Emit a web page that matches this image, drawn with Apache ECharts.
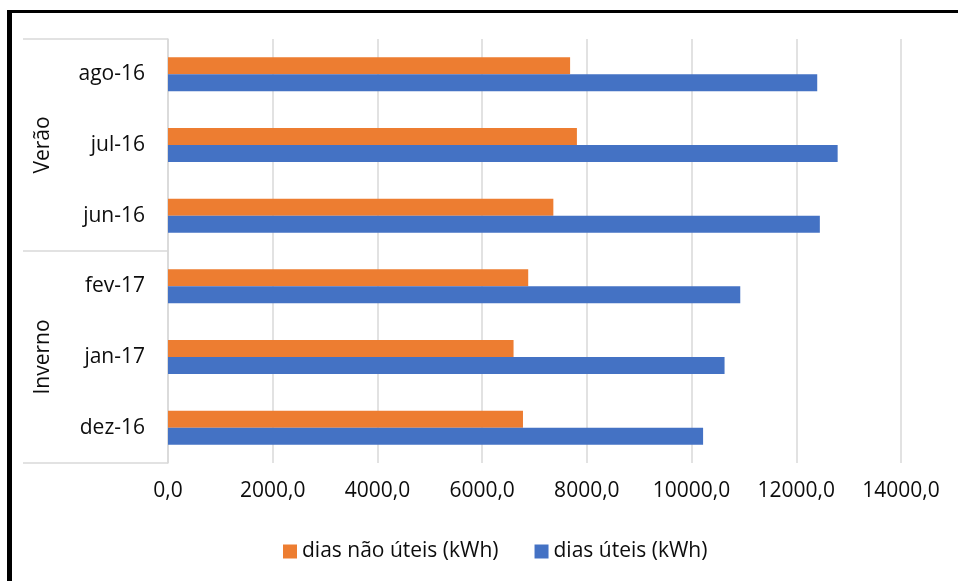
<!DOCTYPE html>
<html>
<head>
<meta charset="utf-8">
<script src="https://cdn.jsdelivr.net/npm/echarts@6/dist/echarts.min.js"></script>
<style>
  html, body { margin: 0; padding: 0; background: #fff; }
  #frame { position: absolute; left: 7px; top: 10px; right: -10px; bottom: -10px;
           border-left: 5px solid #000; border-top: 3px solid #000; }
  #chart { position: absolute; left: 0; top: 0; width: 958px; height: 581px; }
</style>
</head>
<body>
<div id="frame"></div>
<div id="chart"></div>
<script>
// Monthly consumption, listed bottom-to-top along the category axis
const months = ['dez-16', 'jan-17', 'fev-17', 'jun-16', 'jul-16', 'ago-16'];
const seasons = ['Inverno', 'Verão'];
const naoUteis = [6780, 6600, 6880, 7360, 7810, 7680];
const uteis = [10220, 10630, 10930, 12450, 12790, 12400];
const xTicks = { min: 0, max: 14000, interval: 2000 };

const FONT = '"Open Sans", sans-serif';
const TEXT = '#0d0d0d';
const GRID = '#d9d9d9';

const chart = echarts.init(document.getElementById('chart'), null, { renderer: 'canvas' });
chart.setOption({
  backgroundColor: 'transparent',
  animation: false,
  textStyle: { fontFamily: FONT },
  grid: { left: 168, right: 57, top: 39, bottom: 118, containLabel: false },
  legend: {
    data: ['dias não úteis (kWh)', 'dias úteis (kWh)'],
    left: 278, top: 536,
    itemWidth: 14, itemHeight: 14, itemGap: 36,
    icon: 'rect',
    textStyle: { fontFamily: FONT, fontSize: 21, color: TEXT }
  },
  xAxis: {
    type: 'value',
    min: xTicks.min, max: xTicks.max, interval: xTicks.interval,
    axisLine: { show: false },
    axisTick: { show: false },
    splitLine: { lineStyle: { color: GRID, width: 1.5 } },
    axisLabel: {
      margin: 18, fontFamily: FONT, fontSize: 21, color: TEXT,
      formatter: v => v.toFixed(1).replace('.', ',')
    }
  },
  yAxis: [
    {
      type: 'category',
      data: months,
      axisLine: { show: true, lineStyle: { color: GRID, width: 1.5 } },
      axisTick: { show: false },
      axisLabel: { margin: 23, fontFamily: FONT, fontSize: 21, color: TEXT }
    },
    {
      type: 'category',
      data: seasons,
      position: 'left',
      offset: 145,
      axisLine: { show: false },
      axisTick: { show: true, inside: true, length: 145, lineStyle: { color: GRID, width: 1.5 } },
      axisLabel: { inside: true, rotate: 90, margin: 10, fontFamily: FONT, fontSize: 21, color: TEXT }
    }
  ],
  series: [
    {
      name: 'dias não úteis (kWh)', type: 'bar', yAxisIndex: 0,
      data: naoUteis, barWidth: 17, barGap: '0%',
      itemStyle: { color: '#ED7D31' }
    },
    {
      name: 'dias úteis (kWh)', type: 'bar', yAxisIndex: 0,
      data: uteis, barWidth: 17, barGap: '0%',
      itemStyle: { color: '#4472C4' }
    }
  ]
});
</script>
</body>
</html>
